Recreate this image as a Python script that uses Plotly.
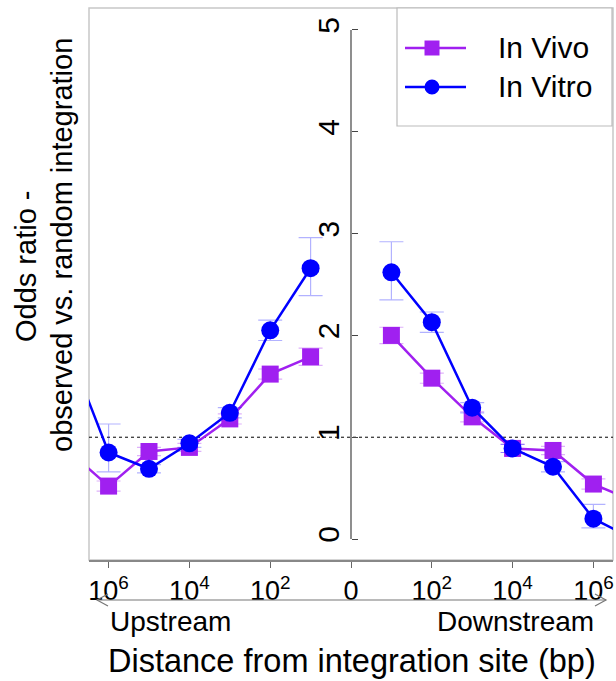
import plotly.graph_objects as go

# log10(distance) of the bins; upstream are plotted on the negative side
log_dist_up = [7, 6, 5, 4, 3, 2, 1]
log_dist_down = [1, 2, 3, 4, 5, 6, 7]

in_vivo_up = [0.87, 0.52, 0.86, 0.90, 1.18, 1.62, 1.79]
in_vivo_up_err = [0.0, 0.05, 0.04, 0.04, 0.05, 0.05, 0.085]
in_vivo_down = [2.00, 1.58, 1.20, 0.89, 0.87, 0.54, 0.37]
in_vivo_down_err = [0.08, 0.05, 0.05, 0.04, 0.04, 0.05, 0.0]

in_vitro_up = [1.87, 0.85, 0.69, 0.94, 1.24, 2.05, 2.66]
in_vitro_up_plus = [0.0, 0.28, 0.04, 0.04, 0.05, 0.10, 0.30]
in_vitro_up_minus = [0.0, 0.19, 0.04, 0.04, 0.05, 0.10, 0.27]
in_vitro_down = [2.62, 2.13, 1.29, 0.89, 0.71, 0.20, 0.0]
in_vitro_down_plus = [0.30, 0.10, 0.05, 0.04, 0.05, 0.14, 0.0]
in_vitro_down_minus = [0.27, 0.10, 0.05, 0.04, 0.05, 0.09, 0.0]

tick_pos = [-6, -4, -2, 0, 2, 4, 6]
tick_text = ["10<sup>6</sup>", "10<sup>4</sup>", "10<sup>2</sup>", "0",
             "10<sup>2</sup>", "10<sup>4</sup>", "10<sup>6</sup>"]
series_names = ["In Vivo", "In Vitro"]

FONT = "Arial, Liberation Sans, sans-serif"
PURPLE = "#A020F0"
BLUE = "#0000FF"

x_all = [-d for d in log_dist_up] + [None] + log_dist_down

def join(a, b):
    return list(a) + [None] + list(b)

fig = go.Figure()
fig.add_trace(go.Scatter(
    x=x_all, y=join(in_vivo_up, in_vivo_down), name=series_names[0],
    mode="lines+markers", connectgaps=False,
    line=dict(color=PURPLE, width=2.5),
    marker=dict(symbol="square", size=17, color=PURPLE),
    error_y=dict(type="data", symmetric=True,
                 array=join(in_vivo_up_err, in_vivo_down_err),
                 color="rgba(160,32,240,0.35)", thickness=1.2, width=12),
))
fig.add_trace(go.Scatter(
    x=x_all, y=join(in_vitro_up, in_vitro_down), name=series_names[1],
    mode="lines+markers", connectgaps=False,
    line=dict(color=BLUE, width=2.5),
    marker=dict(symbol="circle", size=18, color=BLUE),
    error_y=dict(type="data", symmetric=False,
                 array=join(in_vitro_up_plus, in_vitro_down_plus),
                 arrayminus=join(in_vitro_up_minus, in_vitro_down_minus),
                 color="rgba(0,0,255,0.3)", thickness=1.2, width=12),
))

ymin, ymax = -0.206, 5.216
fig.update_layout(
    width=616, height=681,
    margin=dict(l=89, r=3, t=8, b=121),
    paper_bgcolor="white", plot_bgcolor="white",
    font=dict(family=FONT, color="black"),
    showlegend=False,
    xaxis=dict(range=[-6.485, 6.485], tickmode="array", tickvals=tick_pos,
               ticktext=tick_text, ticks="outside", ticklen=6,
               tickcolor="#666", showgrid=False, zeroline=False,
               showline=True, linecolor="#888", linewidth=1.5,
               tickfont=dict(size=27, family=FONT)),
    yaxis=dict(range=[ymin, ymax], anchor="free", position=0.5,
               tickvals=[0, 1, 2, 3, 4, 5], ticks="inside", ticklen=6,
               tickcolor="#444", tickangle=-90, showgrid=False,
               zeroline=False, showline=False, ticklabelstandoff=6,
               tickfont=dict(size=30, family=FONT)),
)

def px_x(p):
    return (p - 89) / 524.0
def px_y(p):
    return (560 - p) / 552.0

shapes = [
    dict(type="rect", xref="paper", yref="paper", x0=0, x1=1, y0=0, y1=1,
         line=dict(color="#c8c8c8", width=1.5), layer="below"),
    dict(type="line", xref="paper", yref="y", x0=0, x1=1, y0=1, y1=1,
         line=dict(color="black", width=1, dash="dot"), layer="below"),
    dict(type="line", xref="x", yref="y", x0=0, x1=0, y0=0, y1=5,
         line=dict(color="#444", width=1.2)),
]
# double-headed arrow below tick labels
ya = px_y(600)
shapes.append(dict(type="line", xref="paper", yref="paper",
                   x0=px_x(97), x1=px_x(606), y0=ya, y1=ya,
                   line=dict(color="#777", width=1.2)))
shapes.append(dict(type="path", xref="paper", yref="paper",
                   path=f"M {px_x(108)},{px_y(594)} L {px_x(97)},{ya} L {px_x(108)},{px_y(606)}",
                   line=dict(color="#777", width=1.2)))
shapes.append(dict(type="path", xref="paper", yref="paper",
                   path=f"M {px_x(595)},{px_y(594)} L {px_x(606)},{ya} L {px_x(595)},{px_y(606)}",
                   line=dict(color="#777", width=1.2)))

# legend box drawn by hand
shapes.append(dict(type="rect", xref="paper", yref="paper",
                   x0=px_x(397), x1=px_x(612), y0=px_y(126), y1=px_y(8),
                   line=dict(color="#bbbbbb", width=1.2), fillcolor="white"))
leg_y = [48, 87]
leg_col = [PURPLE, BLUE]
for i in range(2):
    yy = px_y(leg_y[i])
    shapes.append(dict(type="line", xref="paper", yref="paper",
                       x0=px_x(405), x1=px_x(466), y0=yy, y1=yy,
                       line=dict(color=leg_col[i], width=2.5)))
s = 7.5
shapes.append(dict(type="rect", xref="paper", yref="paper",
                   x0=px_x(432 - s), x1=px_x(432 + s),
                   y0=px_y(leg_y[0] + s), y1=px_y(leg_y[0] - s),
                   line=dict(width=0), fillcolor=PURPLE))
shapes.append(dict(type="circle", xref="paper", yref="paper",
                   x0=px_x(432 - s), x1=px_x(432 + s),
                   y0=px_y(leg_y[1] + s), y1=px_y(leg_y[1] - s),
                   line=dict(width=0), fillcolor=BLUE))
fig.update_layout(shapes=shapes)

annotations = [
    dict(text="Upstream", xref="paper", yref="paper", x=px_x(108), y=px_y(621),
         xanchor="left", yanchor="middle", showarrow=False,
         font=dict(size=28, family=FONT)),
    dict(text="Downstream", xref="paper", yref="paper", x=px_x(596), y=px_y(621),
         xanchor="right", yanchor="middle", showarrow=False,
         font=dict(size=28, family=FONT)),
    dict(text="Distance from integration site (bp)", xref="paper", yref="paper",
         x=px_x(352), y=px_y(661), xanchor="center", yanchor="middle",
         showarrow=False, font=dict(size=32.5, family=FONT)),
    dict(text="Odds ratio -", xref="paper", yref="paper",
         x=px_x(26), y=px_y(266), xanchor="center", yanchor="middle",
         textangle=-90, showarrow=False, font=dict(size=29, family=FONT)),
    dict(text="observed vs. random integration", xref="paper", yref="paper",
         x=px_x(62), y=px_y(245), xanchor="center", yanchor="middle",
         textangle=-90, showarrow=False, font=dict(size=29, family=FONT)),
]
for i in range(2):
    annotations.append(dict(text=series_names[i], xref="paper", yref="paper",
                            x=px_x(496), y=px_y(leg_y[i]), xanchor="left",
                            yanchor="middle", showarrow=False,
                            font=dict(size=30, family=FONT)))
fig.update_layout(annotations=annotations)

fig.write_html("out.html")
